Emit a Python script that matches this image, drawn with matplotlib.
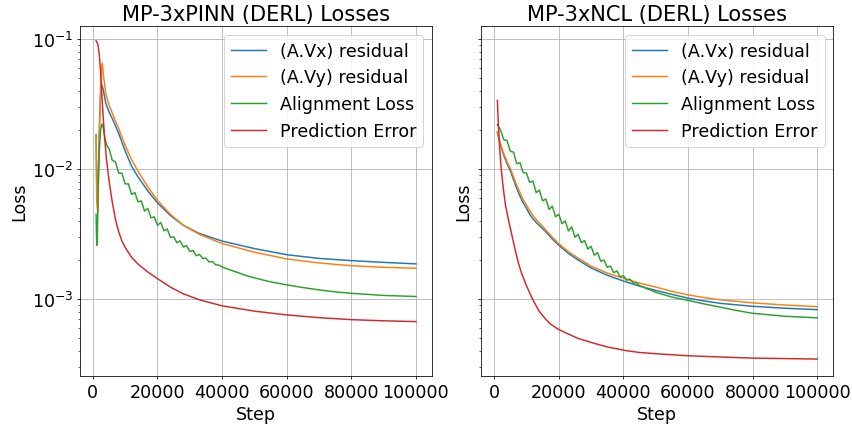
import matplotlib
matplotlib.use("Agg")
import matplotlib.pyplot as plt

plt.rcParams['font.size'] = 17.7

# ---- left panel: MP-3xPINN ----
pinn_vx_steps = [1000, 1200, 1500, 1800, 2100, 2400, 2700, 3200, 4000, 5000, 6000, 7000, 8000,
                 10000, 12000, 14000, 17000, 20000, 24000, 28000, 33000, 40000, 50000, 60000,
                 70000, 80000, 90000, 100000]
pinn_vx = [0.0184, 0.0075, 0.0065, 0.012, 0.025, 0.038, 0.045, 0.041, 0.032, 0.0275, 0.0245, 0.0215,
           0.0188, 0.0138, 0.0105, 0.0087, 0.0068, 0.0055, 0.0044, 0.0037, 0.0032, 0.0028, 0.00245,
           0.0022, 0.00206, 0.00198, 0.00192, 0.00187]

pinn_vy_steps = [1000, 1200, 1500, 1800, 2100, 2400, 2700, 2950, 3300, 4000, 5000, 6000, 7000, 8000,
                 10000, 12000, 14000, 17000, 20000, 24000, 28000, 33000, 40000, 50000, 60000, 70000,
                 80000, 90000, 100000]
pinn_vy = [0.0182, 0.0055, 0.0047, 0.0095, 0.022, 0.042, 0.06, 0.065, 0.052, 0.038, 0.031, 0.027,
           0.0235, 0.0205, 0.0152, 0.0118, 0.0096, 0.0073, 0.00575, 0.0045, 0.0037, 0.00315, 0.00268,
           0.0023, 0.00204, 0.0019, 0.00181, 0.00176, 0.00173]

pinn_align_steps = [1000, 1200, 1400, 1700, 2000, 2400, 2800, 3200, 3700, 4200, 4700,
                    5000, 6000, 7000, 8000, 9000, 10000, 11000, 12000, 13000, 14000, 15000, 16000,
                    17000, 18000, 19000, 20000, 21000, 22000, 23000, 24000, 25000, 26000, 27000,
                    28000, 29000, 30000, 31000, 32000, 33000, 34000, 35000, 36000, 37000, 38000,
                    39000, 40000, 42500, 45000, 47500, 50000, 55000, 60000, 65000, 70000, 75000,
                    80000, 85000, 90000, 95000, 100000]
pinn_align = [0.0045, 0.0026, 0.003, 0.008, 0.014, 0.02, 0.0222, 0.021, 0.0175, 0.0155, 0.0147,
              0.0144, 0.0117, 0.0114, 0.0093, 0.0093, 0.0077, 0.0077, 0.0064, 0.0066, 0.0056, 0.0057,
              0.00475, 0.0050, 0.00422, 0.0043, 0.0037, 0.00389, 0.00336, 0.00347, 0.00298, 0.00302,
              0.00272, 0.00281, 0.00252, 0.00258, 0.00233, 0.00237, 0.00216, 0.00221, 0.00206,
              0.00207, 0.00193, 0.00195, 0.00184, 0.00183, 0.00177, 0.00168, 0.0016, 0.00152,
              0.00146, 0.00136, 0.00129, 0.00123, 0.00118, 0.00114, 0.00111, 0.00109, 0.00107,
              0.00106, 0.00105]

pinn_pred_steps = [1000, 1300, 1600, 2000, 2400, 2800, 3200, 3600, 4200, 5000, 6000, 7000, 8000, 9000,
                   10000, 12000, 14000, 17000, 20000, 24000, 28000, 33000, 40000, 50000, 60000, 70000,
                   80000, 90000, 100000]
pinn_pred = [0.097, 0.094, 0.090, 0.075, 0.056, 0.037, 0.025, 0.018, 0.012, 0.0082, 0.0056, 0.0041,
             0.0033, 0.0028, 0.0025, 0.0021, 0.00186, 0.00162, 0.00144, 0.00124, 0.0011, 0.00099,
             0.00089, 0.00081, 0.000758, 0.000722, 0.000697, 0.000683, 0.000673]

# ---- right panel: MP-3xNCL ----
ncl_vx_steps = [1000, 1500, 2000, 3000, 4000, 5000, 6000, 7000, 8000, 9000, 10000, 11000, 12000,
                13000, 14000, 16000, 18000, 20000, 23000, 26000, 30000, 35000, 40000, 45000, 50000,
                55000, 60000, 65000, 70000, 80000, 90000, 100000]
ncl_vx = [0.0192, 0.0170, 0.0152, 0.0127, 0.0110, 0.0097, 0.0083, 0.0071, 0.0062, 0.0055, 0.0050,
          0.0045, 0.00415, 0.0039, 0.00368, 0.0033, 0.0029, 0.0026, 0.00225, 0.002, 0.00174, 0.00153,
          0.00138, 0.00126, 0.00117, 0.00109, 0.00102, 0.00097, 0.00093, 0.000883, 0.000853, 0.000832]

ncl_vy_steps = ncl_vx_steps
ncl_vy = [0.0192, 0.0172, 0.0155, 0.0131, 0.0114, 0.0101, 0.0087, 0.0075, 0.0066, 0.0058, 0.0053,
          0.0048, 0.0044, 0.0041, 0.00386, 0.0034, 0.003, 0.00267, 0.00232, 0.00207, 0.0018, 0.00159,
          0.00145, 0.00133, 0.00124, 0.00115, 0.00108, 0.00103, 0.00099, 0.000938, 0.000903, 0.000877]

ncl_align_steps = [1000, 2000, 3000, 4000, 5000, 6000, 7000, 8000, 9000, 10000, 11000, 12000, 13000,
                   14000, 15000, 16000, 17000, 18000, 19000, 20000, 21000, 22000, 23000, 24000,
                   25000, 26000, 27000, 28000, 29000, 30000, 31000, 32000, 33000, 34000, 35000,
                   36000, 37000, 38000, 39000, 40000, 41000, 42000, 43000, 44000, 45000, 46000,
                   47000, 48000, 49000, 50000, 55000, 60000, 65000, 70000, 75000, 80000, 85000,
                   90000, 95000, 100000]
ncl_align = [0.022, 0.0199, 0.0168, 0.0166, 0.0137, 0.0135, 0.0110, 0.0112, 0.0094, 0.0093, 0.0079,
             0.0081, 0.0066, 0.0069, 0.0057, 0.0059, 0.0049, 0.0052, 0.0043, 0.0045, 0.0038, 0.0040,
             0.00335, 0.0036, 0.00300, 0.00315, 0.00272, 0.00282, 0.00243, 0.00255, 0.00218, 0.00228,
             0.00196, 0.00200, 0.00176, 0.00180, 0.00160, 0.00165, 0.00148, 0.00152, 0.00140,
             0.00143, 0.00133, 0.00134, 0.00127, 0.00125, 0.00121, 0.00119, 0.00116, 0.00113,
             0.00104, 0.00098, 0.00092, 0.00087, 0.00082, 0.00078, 0.00076, 0.00074, 0.00073, 0.00072]

ncl_pred_steps = [1000, 1300, 1700, 2200, 2800, 3500, 4500, 5500, 6500, 7500, 8500, 10000, 11000,
                  12000, 13000, 14000, 15000, 16000, 17000, 18000, 20000, 23000, 26000, 30500, 35000,
                  40800, 45000, 51000, 60000, 70000, 80000, 90000, 100000]
ncl_pred = [0.0337, 0.022, 0.0145, 0.0100, 0.0072, 0.0053, 0.0040, 0.0031, 0.0024, 0.0019, 0.00158,
            0.00127, 0.00112, 0.00099, 0.00089, 0.000805, 0.00075, 0.00070, 0.00066, 0.00063, 0.000585,
            0.00054, 0.0005, 0.000462, 0.00043, 0.000403, 0.00039, 0.00038, 0.000368, 0.00036,
            0.000353, 0.00035, 0.000347]

labels = ["(A.Vx) residual", "(A.Vy) residual", "Alignment Loss", "Prediction Error"]
colors = ["#1f77b4", "#ff7f0e", "#2ca02c", "#d62728"]

panels = [
    ("MP-3xPINN (DERL) Losses",
     [(pinn_vx_steps, pinn_vx), (pinn_vy_steps, pinn_vy),
      (pinn_align_steps, pinn_align), (pinn_pred_steps, pinn_pred)]),
    ("MP-3xNCL (DERL) Losses",
     [(ncl_vx_steps, ncl_vx), (ncl_vy_steps, ncl_vy),
      (ncl_align_steps, ncl_align), (ncl_pred_steps, ncl_pred)]),
]

fig = plt.figure(figsize=(12, 6.014), dpi=71)
ax1 = fig.add_axes([0.094, 0.117, 0.413, 0.820])
ax2 = fig.add_axes([0.565, 0.117, 0.413, 0.820], sharey=ax1)

for ax, (title, series) in zip([ax1, ax2], panels):
    for (s, v), lab, c in zip(series, labels, colors):
        ax.plot(s, v, color=c, label=lab)
    ax.set_yscale('log')
    ax.set_title(title)
    ax.set_xlabel("Step")
    ax.set_ylabel("Loss")
    ax.grid(True, which='major')
    ax.legend(loc='upper right')

ax1.set_ylim(2.57e-4, 0.126)
ax1.set_xticks([0, 20000, 40000, 60000, 80000, 100000])
ax2.set_xticks([0, 20000, 40000, 60000, 80000, 100000])
ax2.tick_params(labelleft=False)

fig.savefig("out.png", dpi=71)
